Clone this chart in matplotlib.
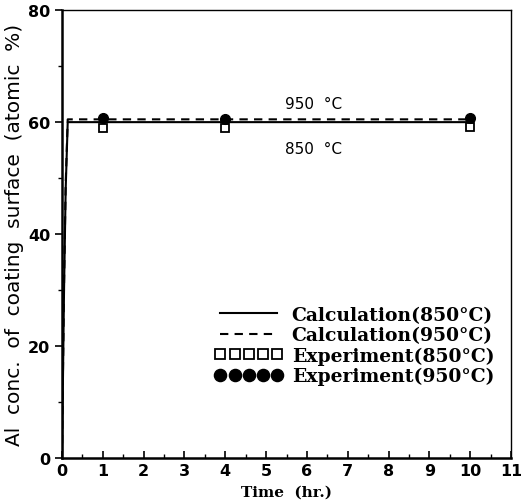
import matplotlib
matplotlib.use("Agg")
import matplotlib.pyplot as plt
from matplotlib.ticker import MultipleLocator

# calculated surface concentration (rises fast then flat)
t_calc = [0, 0.02, 0.05, 0.09, 0.14, 1, 4, 10]
c850 = [0, 12, 30, 48, 60, 60, 60, 60]
c950 = [0, 13, 31, 49, 60.5, 60.5, 60.5, 60.5]

# experiment points
t_exp = [1, 4, 10]
e850 = [59.0, 59.0, 59.2]
e950 = [60.7, 60.5, 60.7]

fig = plt.figure(figsize=(5.21, 5.02), dpi=100)
ax = fig.add_axes([0.119, 0.0857, 0.862, 0.892])

ax.plot(t_calc, c850, color='black', lw=1.5, label='Calculation(850°C)')
ax.plot(t_calc, c950, color='black', lw=1.5, ls=(0, (4, 3)), label='Calculation(950°C)')
ax.plot(t_exp, e850, ls='none', marker='s', ms=6, mfc='white', mec='black', mew=1.3,
        label='Experiment(850°C)')
ax.plot(t_exp, e950, ls='none', marker='o', ms=7, color='black', label='Experiment(950°C)')

ax.text(5.45, 62.5, '950  °C', fontsize=11)
ax.text(5.45, 54.5, '850  °C', fontsize=11)

ax.set_xlim(0, 11)
ax.set_ylim(0, 80)
ax.xaxis.set_major_locator(MultipleLocator(1))
ax.xaxis.set_minor_locator(MultipleLocator(0.5))
ax.yaxis.set_major_locator(MultipleLocator(20))
ax.yaxis.set_minor_locator(MultipleLocator(10))
ax.tick_params(axis='x', which='both', direction='in', top=False)
ax.tick_params(axis='y', which='both', direction='out', right=False)
ax.tick_params(which='major', length=5, width=1.2, labelsize=11.5)
ax.tick_params(which='minor', length=3, width=1)
for lab in ax.get_xticklabels() + ax.get_yticklabels():
    lab.set_fontweight('bold')

for s in ['left', 'bottom']:
    ax.spines[s].set_linewidth(1.8)
for s in ['top', 'right']:
    ax.spines[s].set_linewidth(1.0)

ax.set_xlabel('Time  (hr.)', family='DejaVu Serif', fontweight='bold', fontsize=11, labelpad=5)
ax.set_ylabel('Al  conc.  of  coating  surface  (atomic  %)', fontsize=14.5, labelpad=3)

leg = ax.legend(loc='lower right', bbox_to_anchor=(1.0, 0.125), frameon=False, numpoints=5,
                handlelength=3.6, handletextpad=0.5, labelspacing=0.12, markerscale=1.25,
                prop={'family': 'DejaVu Serif', 'size': 13.5, 'weight': 'bold'})

fig.savefig('out.png', dpi=100)
